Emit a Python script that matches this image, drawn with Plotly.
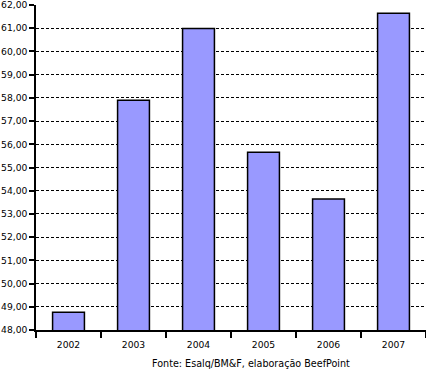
import plotly.graph_objects as go

years = ["2002", "2003", "2004", "2005", "2006", "2007"]
values = [48.77, 57.90, 60.99, 55.66, 53.64, 61.64]
source_text = "Fonte: Esalq/BM&F, elaboração BeefPoint"

fig = go.Figure()
fig.add_trace(go.Bar(
    x=years, y=values, width=0.49,
    marker=dict(color="#9999FF", line=dict(color="black", width=1.5)),
))

fig.update_layout(
    width=426, height=369,
    margin=dict(l=36, r=0, t=5, b=39, autoexpand=False),
    plot_bgcolor="white", paper_bgcolor="white",
    separators=",.",
    font=dict(family="DejaVu Sans", size=9.2, color="black"),
    showlegend=False,
    xaxis=dict(
        type="category", showline=True, linecolor="black", linewidth=1.5,
        ticks="outside", tickson="boundaries", ticklen=6, tickcolor="black", tickwidth=1.5,
        showgrid=False, tickfont=dict(size=9.2), automargin=False,
        ticklabelstandoff=5,
    ),
    yaxis=dict(
        range=[48, 62], dtick=1, tickformat=".2f",
        showline=True, linecolor="black", linewidth=1.5,
        ticks="outside", ticklen=5, tickcolor="black", tickwidth=1.5,
        showgrid=True, gridcolor="black", gridwidth=1, griddash="3px,2px",
        zeroline=False, tickfont=dict(size=9.2), automargin=False,
        ticklabeloverflow="allow",
    ),
    annotations=[dict(
        text=source_text, xref="paper", yref="paper",
        x=0.551, y=-0.104, xanchor="center", yanchor="middle",
        showarrow=False, font=dict(size=9.6),
    )],
)

fig.write_html("out.html", config={"displayModeBar": False},
               post_script="document.body.style.margin='0px';")
